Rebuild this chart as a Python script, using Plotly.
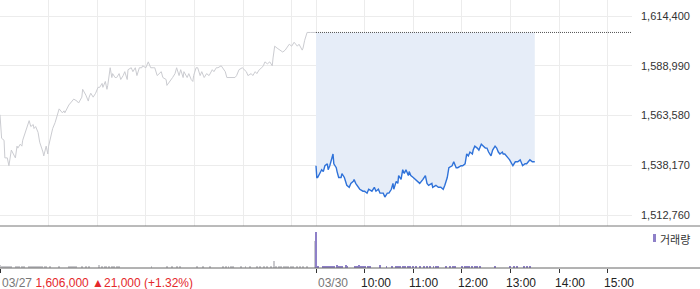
import plotly.graph_objects as go

# ---------------- data ----------------
prev_close = 1606000
prev_day_label = "03/27"
today_label = "03/30"
prev_summary = "1,606,000 ▲21,000 (+1.32%)"

# previous day (03/27): minutes since 09:00, price
prev_min = [0, 2, 5, 6, 9, 11, 14, 16, 19, 21, 22, 25, 27, 28, 31, 33, 36, 38, 41, 42, 44, 47, 49, 53, 54,
            57, 59, 60, 63, 65, 68, 70, 73, 77, 79, 80, 83, 85, 89, 91, 95, 97, 101, 102, 106, 109, 110, 112,
            115, 118, 121, 123, 126, 127, 130, 132, 133, 136, 138, 139, 142, 144, 147, 149, 152, 154, 157, 158,
            162, 164, 167, 169, 172, 175, 176, 180, 183, 186, 189, 191, 194, 196, 199, 201, 205, 206, 210, 213,
            216, 218, 221, 223, 226, 227, 231, 233, 236, 238, 239, 242, 244, 247, 249, 252, 255, 258, 262, 264,
            267, 269, 273, 275, 278, 280, 284, 288, 290, 292, 295, 299, 301, 304, 306, 310, 312, 315, 317, 320,
            323, 325, 327, 330, 333, 336, 337, 339, 342, 346, 349, 352, 354, 357, 360, 363, 367, 369, 373, 374,
            376, 379, 383, 390]
prev_price = [1564000, 1552000, 1551000, 1542000, 1542000, 1538000, 1546000, 1544000, 1542000, 1548000, 1547000,
              1549000, 1548000, 1551000, 1555000, 1557000, 1561000, 1558000, 1559000, 1557000, 1558000, 1555000,
              1550000, 1545000, 1543000, 1548000, 1544000, 1548000, 1553000, 1557000, 1560000, 1563000, 1567000,
              1565000, 1566000, 1565000, 1568000, 1569000, 1571000, 1572000, 1571000, 1570000, 1573000, 1577000,
              1574000, 1571000, 1573000, 1575000, 1573000, 1575000, 1578000, 1578000, 1580000, 1578000, 1581000,
              1577000, 1579000, 1588000, 1583000, 1585000, 1583000, 1583000, 1585000, 1582000, 1584000, 1586000,
              1582000, 1587000, 1588000, 1586000, 1588000, 1584000, 1588000, 1588000, 1589000, 1588000, 1591000,
              1588000, 1588000, 1588000, 1584000, 1585000, 1586000, 1583000, 1582000, 1579000, 1581000, 1583000,
              1585000, 1588000, 1584000, 1587000, 1583000, 1586000, 1583000, 1585000, 1582000, 1581000, 1584000,
              1588000, 1588000, 1584000, 1586000, 1583000, 1585000, 1584000, 1587000, 1586000, 1588000, 1588000,
              1589000, 1588000, 1586000, 1583000, 1583000, 1583000, 1583000, 1584000, 1587000, 1588000, 1587000,
              1586000, 1584000, 1585000, 1584000, 1586000, 1585000, 1587000, 1588000, 1589000, 1591000, 1590000,
              1591000, 1589000, 1593000, 1599000, 1598000, 1597000, 1596000, 1597000, 1598000, 1600000, 1599000,
              1601000, 1599000, 1600000, 1597000, 1598000, 1602000, 1606000, 1606000, 1606000]

# today (03/30): minutes since 09:00, price
today_min = [0, 1, 2, 5, 7, 9, 11, 14, 15, 17, 20, 21, 22, 25, 26, 28, 31, 32, 35, 37, 38, 41, 43, 46, 47, 49,
             52, 54, 58, 60, 63, 65, 69, 72, 74, 77, 79, 83, 85, 88, 90, 93, 95, 96, 99, 101, 102, 105, 107, 109,
             111, 114, 115, 117, 120, 123, 126, 128, 132, 135, 137, 139, 143, 144, 148, 151, 154, 157, 159, 162,
             164, 168, 170, 173, 175, 179, 181, 184, 186, 188, 190, 193, 194, 196, 199, 201, 204, 206, 209, 211,
             213, 216, 218, 221, 223, 225, 227, 230, 231, 233, 236, 237, 239, 242, 243, 246, 248, 249, 252, 254,
             255, 258, 260, 262, 264, 267, 268, 270]
today_price = [1538000, 1532000, 1532000, 1534000, 1536000, 1535000, 1538000, 1539000, 1536000, 1538000, 1542000,
               1544000, 1539000, 1537000, 1535000, 1532000, 1532000, 1534000, 1532000, 1530000, 1528000, 1527000,
               1529000, 1530000, 1531000, 1529000, 1527000, 1526000, 1525000, 1525000, 1524000, 1526000, 1525000,
               1527000, 1525000, 1526000, 1524000, 1524000, 1522000, 1524000, 1524000, 1526000, 1529000, 1526000,
               1530000, 1529000, 1533000, 1531000, 1536000, 1534000, 1536000, 1533000, 1535000, 1533000, 1532000,
               1531000, 1530000, 1529000, 1531000, 1533000, 1529000, 1528000, 1529000, 1527000, 1528000, 1527000,
               1527000, 1526000, 1528000, 1532000, 1537000, 1538000, 1540000, 1537000, 1537000, 1538000, 1538000,
               1539000, 1544000, 1543000, 1545000, 1544000, 1546000, 1548000, 1547000, 1546000, 1549000, 1548000,
               1547000, 1547000, 1545000, 1543000, 1546000, 1548000, 1547000, 1545000, 1544000, 1545000, 1544000,
               1544000, 1542000, 1542000, 1541000, 1539000, 1538000, 1540000, 1540000, 1540000, 1541000, 1539000,
               1538000, 1539000, 1539000, 1540000, 1541000, 1540000, 1540000, 1540000]

# volume (shares per minute)
prev_vol_min = [0, 2, 4, 6, 8, 10, 12, 14, 20, 22, 24, 27, 30, 36, 38, 40, 42, 44, 46, 48, 50, 52, 55, 57, 62, 73,
                85, 87, 89, 91, 94, 101, 106, 110, 122, 126, 129, 131, 134, 138, 141, 144, 147, 187, 206, 212, 218,
                222, 243, 250, 259, 275, 279, 282, 285, 288, 298, 303, 308, 317, 321, 326, 329, 335, 338, 341, 344,
                347, 350, 353, 356, 359, 362, 366, 370, 374, 379, 389]
prev_vol = [700, 400, 350, 450, 350, 400, 300, 350, 350, 300, 350, 300, 300, 350, 300, 400, 350, 300, 350, 350, 300,
            350, 300, 350, 300, 300, 400, 350, 350, 400, 350, 500, 400, 350, 600, 350, 400, 350, 350, 350, 300, 350,
            300, 300, 350, 300, 350, 300, 300, 350, 300, 300, 350, 300, 350, 300, 350, 300, 350, 300, 350, 300, 350,
            350, 1700, 400, 350, 400, 350, 400, 350, 400, 350, 300, 350, 400, 350, 6400]
today_vol_min = [0, 1, 3, 8, 10, 12, 14, 16, 18, 20, 22, 26, 28, 30, 32, 37, 38, 48, 51, 53, 55, 58, 61, 64, 67, 79,
                 87, 94, 99, 101, 104, 107, 110, 113, 116, 120, 124, 128, 133, 137, 141, 145, 148, 151, 160, 165, 169,
                 172, 180, 184, 186, 189, 192, 196, 199, 202, 221, 239, 244, 248, 257, 261, 264]
today_vol = [8600, 500, 350, 450, 350, 400, 350, 400, 350, 400, 350, 700, 500, 450, 350, 700, 500, 350, 450, 700, 450,
             350, 400, 450, 350, 800, 300, 300, 400, 350, 400, 350, 400, 350, 400, 350, 400, 350, 350, 400, 350, 350,
             400, 350, 300, 350, 300, 350, 300, 400, 500, 400, 350, 300, 350, 300, 300, 350, 300, 300, 300, 350, 300]

y_ticks = [1512760, 1538170, 1563580, 1588990, 1614400]
time_ticks = [60, 120, 180, 240, 300, 360]          # 10:00 .. 15:00
time_labels = ["10:00", "11:00", "12:00", "13:00", "14:00", "15:00"]
session_len = 390                                    # 09:00 - 15:30
volume_label = "거래량"

# ---------------- style ----------------
W, H = 700, 289
ML, MR, MT, MB = 0, 68, 0, 21
PW, PH = W - ML - MR, H - MT - MB
VOL_H = 42
vol_frac = VOL_H / PH
FONT = "Liberation Sans, Arial, sans-serif"
GRID = "#ececec"
GRAY_LINE = "#cbccd1"
BLUE = "#2f72d9"
FILL = "#e6edf8"
PURPLE = "#8e80c8"
GRAY_BAR = "#c9c9cd"
RED = "#e5282b"

off = session_len
today_x = [m + off for m in today_min]
today_vol_x = [m + off for m in today_vol_min]

fig = go.Figure()
fig.add_trace(go.Scatter(x=prev_min, y=prev_price, mode="lines",
                         line=dict(color=GRAY_LINE, width=1), xaxis="x", yaxis="y", hoverinfo="skip"))
fig.add_trace(go.Scatter(x=[today_x[0], today_x[-1]], y=[prev_close, prev_close], mode="lines",
                         line=dict(width=0, color=FILL), xaxis="x", yaxis="y", hoverinfo="skip"))
fig.add_trace(go.Scatter(x=today_x, y=today_price, mode="lines", fill="tonexty", fillcolor=FILL,
                         line=dict(color=BLUE, width=1.4), xaxis="x", yaxis="y", hoverinfo="skip"))
fig.add_trace(go.Bar(x=prev_vol_min, y=prev_vol, width=1.2, marker=dict(color=GRAY_BAR, line=dict(width=0)),
                     xaxis="x2", yaxis="y2", hoverinfo="skip"))
fig.add_trace(go.Bar(x=today_vol_x, y=today_vol, width=1.2, marker=dict(color=PURPLE, line=dict(width=0)),
                     xaxis="x2", yaxis="y2", hoverinfo="skip"))

grid_x = [0] + time_ticks + [off] + [t + off for t in time_ticks]
xr = [0, 2 * session_len]

fig.update_layout(
    width=W, height=H, margin=dict(l=ML, r=MR, t=MT, b=MB),
    paper_bgcolor="white", plot_bgcolor="white", showlegend=False, bargap=0,
    xaxis=dict(domain=[0, 1], anchor="y", range=xr, tickvals=grid_x, showticklabels=False,
               showgrid=True, gridcolor=GRID, gridwidth=1, zeroline=False, showline=False, ticks=""),
    yaxis=dict(domain=[vol_frac, 1], anchor="x", range=[1507250, 1622564], side="right",
               tickvals=y_ticks, ticktext=[f"{v:,}" for v in y_ticks], showgrid=True, gridcolor=GRID,
               zeroline=False, showline=False, ticks="", ticklabelstandoff=8,
               tickfont=dict(family=FONT, size=11, color="#333")),
    xaxis2=dict(domain=[0, 1], anchor="y2", range=xr, tickvals=[0, off] + [t + off for t in time_ticks],
                showticklabels=False, ticks="outside", ticklen=4, tickcolor="#333", tickwidth=1,
                showgrid=False, zeroline=False, showline=False),
    yaxis2=dict(domain=[0, vol_frac], anchor="x2", range=[0, 10000], showgrid=False,
                showticklabels=False, zeroline=False, showline=False),
)

# panel separators (full width)
xr_paper = W / PW
for yp, col in [(vol_frac, "#777"), (0, "#666")]:
    fig.add_shape(type="line", xref="paper", yref="paper", x0=0, x1=xr_paper, y0=yp, y1=yp,
                  line=dict(color=col, width=1))

# previous close dotted line across today's session
fig.add_shape(type="line", xref="x", yref="y", x0=off, x1=2 * session_len, y0=prev_close, y1=prev_close,
              line=dict(color="#555", width=1, dash="1px,1px"))

# volume legend
fig.add_shape(type="rect", xref="paper", yref="paper", x0=653 / PW, x1=656 / PW,
              y0=(PH - 242) / PH, y1=(PH - 234) / PH, fillcolor=PURPLE, line=dict(width=0))
fig.add_annotation(xref="paper", yref="paper", x=658 / PW, y=(PH - 238.5) / PH, xanchor="left",
                   yanchor="middle", showarrow=False, text=volume_label,
                   font=dict(family="Noto Sans CJK KR", size=11, color="#333"))

# bottom labels
lab_font = dict(family=FONT, size=12, color="#222")
fig.add_annotation(xref="x2", yref="paper", x=0, y=0, xanchor="left", yanchor="top", yshift=-6,
                   showarrow=False,
                   text=f"<span style='color:#777'>{prev_day_label}</span> "
                        f"<span style='color:{RED}'>{prev_summary}</span>",
                   font=lab_font)
fig.add_annotation(xref="x2", yref="paper", x=off, y=0, xanchor="left", yanchor="top", yshift=-6,
                   xshift=0, showarrow=False, text=f"<span style='color:#777'>{today_label}</span>",
                   font=lab_font)
for t, lab in zip(time_ticks, time_labels):
    fig.add_annotation(xref="x2", yref="paper", x=t + off, y=0, xanchor="left", yanchor="top", yshift=-6,
                       xshift=-6, showarrow=False, text=lab, font=lab_font)

fig.write_html("out.html")
